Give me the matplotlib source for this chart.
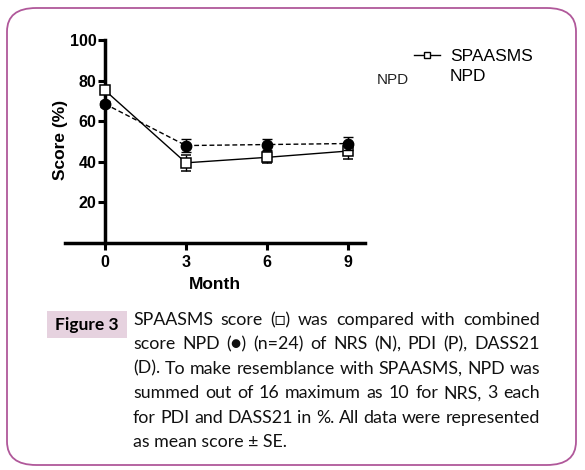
import matplotlib.pyplot as plt
from matplotlib.lines import Line2D
from matplotlib.patches import FancyBboxPatch, Rectangle

months = [0, 3, 6, 9]
spaasms = [75.2, 39.5, 42.2, 45.3]
spaasms_se = [1.5, 3.8, 2.6, 3.8]
npd = [68.5, 48.0, 48.5, 49.0]
npd_se = [1.5, 3.3, 2.7, 3.0]

caption_lines = [
    "SPAASMS score (\u25a1) was compared with combined",
    "score NPD (\u25cf) (n=24) of NRS (N), PDI (P), DASS21",
    "(D). To make resemblance with SPAASMS, NPD was",
    "summed out of 16 maximum as 10 for NRS, 3 each",
    "for PDI and DASS21 in %. All data were represented",
    "as mean score \u00b1 SE.",
]

plt.rcParams['font.family'] = ['Liberation Sans', 'DejaVu Sans']
W, H = 585, 470
fig = plt.figure(figsize=(W / 100, H / 100), dpi=100)

# rounded border
border = FancyBboxPatch((7 / W, 5 / H), 569 / W, 457 / H,
                        boxstyle="round,pad=0,rounding_size=0.05",
                        transform=fig.transFigure, fill=False,
                        edgecolor='#b0589a', linewidth=1.3)
fig.patches.append(border)

ax = fig.add_axes([65 / W, 1 - 243 / H, 300 / W, 203 / H])
ax.errorbar(months, spaasms, yerr=spaasms_se, color='black', lw=1.0,
            marker='s', ms=7, mfc='white', mec='black', mew=1.1,
            capsize=3.5, elinewidth=1.0, capthick=1.0, zorder=3)
ax.errorbar(months, npd, yerr=npd_se, color='black', lw=1.0, ls=(0, (3.5, 2)),
            marker='o', ms=7.5, mfc='black', mec='black',
            capsize=3.5, elinewidth=1.0, capthick=1.0, zorder=4)

ax.set_xlim(-1.48, 9.63)
ax.set_ylim(0, 100)
ax.spines['left'].set_position(('data', 0))
ax.spines['right'].set_visible(False)
ax.spines['top'].set_visible(False)
ax.spines['left'].set_linewidth(2.5)
ax.spines['bottom'].set_linewidth(2.5)
ax.set_xticks(months)
ax.set_yticks([20, 40, 60, 80, 100])
ax.tick_params(width=2.2, length=5, labelsize=11.5)
ax.tick_params(axis='y', pad=1)
for lab in ax.get_xticklabels() + ax.get_yticklabels():
    lab.set_fontweight('bold')
ax.set_xlabel('Month', fontsize=12.5, fontweight='bold', labelpad=5)
fig.text(60 / W, 1 - 140 / H, 'Score (%)', rotation=90, fontsize=12.5,
         fontweight='bold', ha='center', va='center')

handles = [
    Line2D([], [], color='black', lw=1.0, marker='s', ms=5, mfc='white', mec='black'),
    Line2D([], [], color='none'),
]
fig.legend(handles, ['SPAASMS', 'NPD'], loc='upper left',
           bbox_to_anchor=(398 / W, 1 - 33 / H), frameon=False,
           fontsize=12.5, handlelength=1.5, handletextpad=0.6, labelspacing=0.3)
fig.text(377 / W, 1 - 80 / H, 'NPD', fontsize=11, color='#222222', va='center')

# caption
fig.patches.append(Rectangle((47 / W, 1 - 338 / H), 80 / W, 27 / H,
                             transform=fig.transFigure, facecolor='#e6d2df',
                             edgecolor='none'))
fig.text(87 / W, 1 - 325 / H, 'Figure 3', fontsize=12.5, fontweight='bold',
         family='Lato', ha='center', va='center')

fig.canvas.draw()
renderer = fig.canvas.get_renderer()
x0, x1 = 133, 540
y = 320
for i, line in enumerate(caption_lines):
    words = line.split(' ')
    if i == len(caption_lines) - 1:
        fig.text(x0 / W, 1 - y / H, line, fontsize=12.8, family='Lato',
                 va='center', color='#111111')
    else:
        texts = [fig.text(0, 1 - y / H, w, fontsize=12.8, family='Lato',
                          va='center', color='#111111') for w in words]
        widths = [t.get_window_extent(renderer).width for t in texts]
        gap = (x1 - x0 - sum(widths)) / (len(words) - 1)
        xpos = x0
        for t, wd in zip(texts, widths):
            t.set_x(xpos / W)
            xpos += wd + gap
    y += 24.4

fig.savefig('out.png', dpi=100)
